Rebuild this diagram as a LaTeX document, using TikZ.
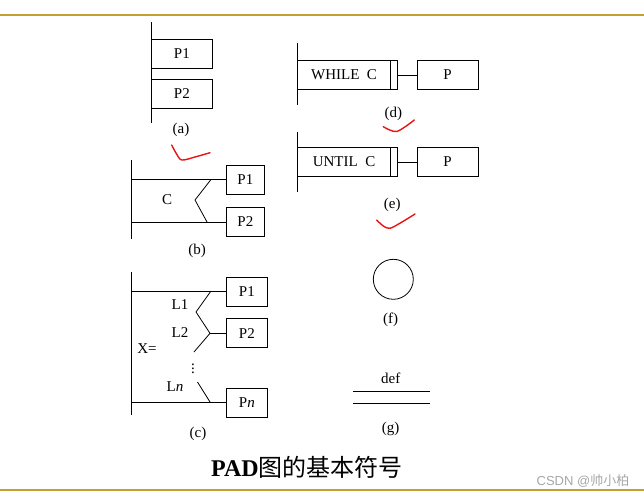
\documentclass[tikz,border=0pt]{standalone}
\usepackage{fontspec}
\setmainfont{Liberation Serif}
\newfontfamily\cjk{Noto Sans CJK SC}
\newfontfamily\wmfont{Liberation Sans}
\definecolor{SlideGold}{RGB}{196, 160, 48}
\definecolor{NoteRed}{RGB}{230, 20, 20}
\usetikzlibrary{positioning, calc}

\tikzset{
  pbox/.style={draw, line width=0.8pt, minimum height=29pt, inner sep=0pt, font=\fontsize{15}{15}\selectfont},
  loopbox/.style={pbox, minimum width=93.5pt, outer sep=0pt, anchor=west},
  barbox/.style={draw, line width=0.8pt, minimum width=6.6pt, minimum height=29pt, inner sep=0pt, outer sep=0pt, anchor=west},
  lbl/.style={inner sep=0pt, font=\fontsize{15}{15}\selectfont},
  rail/.style={line width=0.8pt},
  goldrule/.style={SlideGold, line width=2.6pt},
  redmark/.style={NoteRed, line width=1.4pt, line cap=round, line join=round}
}

\begin{document}
\begin{tikzpicture}[x=1pt, y=-1pt]
  \useasboundingbox (0,0) rectangle (644,497);

  % slide rules
  \coordinate (ruleTL) at (0,15);
  \coordinate (ruleTR) at (644,15);
  \coordinate (ruleBL) at (0,490);
  \coordinate (ruleBR) at (644,490);
  \draw[goldrule] (ruleTL) -- (ruleTR);
  \draw[goldrule] (ruleBL) -- (ruleBR);

  % (a) sequence
  \coordinate (aTop) at (151,22);
  \coordinate (aBot) at (151,123);
  \draw[rail] (aTop) -- (aBot);
  \node[pbox, minimum width=61pt, anchor=west] (aP1) at (151,54) {P1};
  \node[pbox, minimum width=61pt, anchor=west] (aP2) at (151,94) {P2};
  \node[lbl] (aCap) at (181,130) {(a)};

  % (b) selection
  \coordinate (bTop) at (131,160);
  \coordinate (bBot) at (131,239);
  \draw[rail] (bTop) -- (bBot);
  \node[pbox, minimum width=38pt, anchor=west] (bP1) at (226,179.5) {P1};
  \node[pbox, minimum width=38pt, anchor=west] (bP2) at (226,222) {P2};
  \coordinate (bS1) at (131,179.5);
  \coordinate (bS2) at (131,222);
  \draw[rail] (bS1) -- (bP1.west);
  \draw[rail] (bS2) -- (bP2.west);
  \coordinate (bZ1) at (211,179.5);
  \coordinate (bZ2) at (195,200);
  \coordinate (bZ3) at (207,222);
  \draw[rail] (bZ1) -- (bZ2) -- (bZ3);
  \node[lbl] (bC) at (167,200) {C};
  \node[lbl] (bCap) at (197,251) {(b)};

  % (c) multiple selection
  \coordinate (cTop) at (131,272);
  \coordinate (cBot) at (131,415);
  \draw[rail] (cTop) -- (cBot);
  \node[pbox, minimum width=41pt, anchor=west] (cP1) at (226,292) {P1};
  \node[pbox, minimum width=41pt, anchor=west] (cP2) at (226,333.3) {P2};
  \node[pbox, minimum width=41pt, anchor=west] (cPn) at (226,402.5) {P\textit{n}};
  \coordinate (cS1) at (131,291);
  \coordinate (cSn) at (131,402);
  \draw[rail] (cS1) -- (cP1.west |- cS1);
  \draw[rail] (cSn) -- (cPn.west |- cSn);
  \coordinate (cZ1) at (211,291);
  \coordinate (cZ2) at (196,312);
  \coordinate (cZ3) at (210,333.3);
  \coordinate (cZ4) at (194,352);
  \draw[rail] (cZ1) -- (cZ2) -- (cZ3) -- (cZ4);
  \draw[rail] (cZ3) -- (cP2.west);
  \coordinate (cZ5) at (197.5,382);
  \coordinate (cZ6) at (210,402);
  \draw[rail] (cZ5) -- (cZ6);
  \node[lbl] (cDots) at (193,366) {$\vdots$};
  \node[lbl] (cL1) at (180,305) {L1};
  \node[lbl] (cL2) at (180,333) {L2};
  \node[lbl] (cLn) at (175,387) {L\textit{n}};
  \node[lbl] (cX) at (147,348.5) {X=};
  \node[lbl] (cCap) at (198,433.5) {(c)};

  % (d) while loop
  \coordinate (dTop) at (297.3,43);
  \coordinate (dBot) at (297.3,105);
  \draw[rail] (dTop) -- (dBot);
  \node[loopbox] (dCond) at (297.3,75) {WHILE\ \ C};
  \node[barbox] (dBar) at (dCond.east) {};
  \node[pbox, minimum width=61pt, anchor=west] (dP) at (416.7,75) {P};
  \draw[rail] (dBar) -- (dP);
  \node[lbl] (dCap) at (393.3,113.5) {(d)};

  % (e) until loop
  \coordinate (eTop) at (297.3,132);
  \coordinate (eBot) at (297.3,191.7);
  \draw[rail] (eTop) -- (eBot);
  \node[loopbox] (eCond) at (297.3,162) {UNTIL\ \ C};
  \node[barbox] (eBar) at (eCond.east) {};
  \node[pbox, minimum width=61pt, anchor=west] (eP) at (416.7,162) {P};
  \draw[rail] (eBar) -- (eP);
  \node[lbl] (eCap) at (392.3,205) {(e)};

  % (f) sub-routine
  \node[draw, rail, circle, minimum size=40pt, inner sep=0pt] (fCirc) at (393.3,279.3) {};
  \node[lbl] (fCap) at (390.7,320) {(f)};

  % (g) definition
  \node[lbl] (gDef) at (390.7,378) {def};
  \coordinate (gL1a) at (353.3,391.7);
  \coordinate (gL1b) at (430,391.7);
  \coordinate (gL2a) at (353.3,403.3);
  \coordinate (gL2b) at (430,403.3);
  \draw[rail] (gL1a) -- (gL1b);
  \draw[rail] (gL2a) -- (gL2b);
  \node[lbl] (gCap) at (390.7,428.5) {(g)};

  % title and watermark
  \node[inner sep=0pt, font=\fontsize{24}{24}\selectfont] (title) at (307,467) {\textbf{PAD}{\cjk 图的基本符号}};
  \node[inner sep=0pt, text=black!35, font=\fontsize{13}{13}\selectfont\wmfont] (wmark) at (583,481) {CSDN @{\cjk 帅小柏}};

  % red check marks
  \draw[redmark] plot[smooth] coordinates {(171.7,145) (176,153) (181.7,160) (195,157) (210,152.7)};
  \draw[redmark] plot[smooth] coordinates {(383.3,126.7) (396.7,131.5) (414.3,120)};
  \draw[redmark] plot[smooth] coordinates {(376.7,220) (383.3,226) (390,228.3) (402,222) (415,214)};
\end{tikzpicture}
\end{document}
